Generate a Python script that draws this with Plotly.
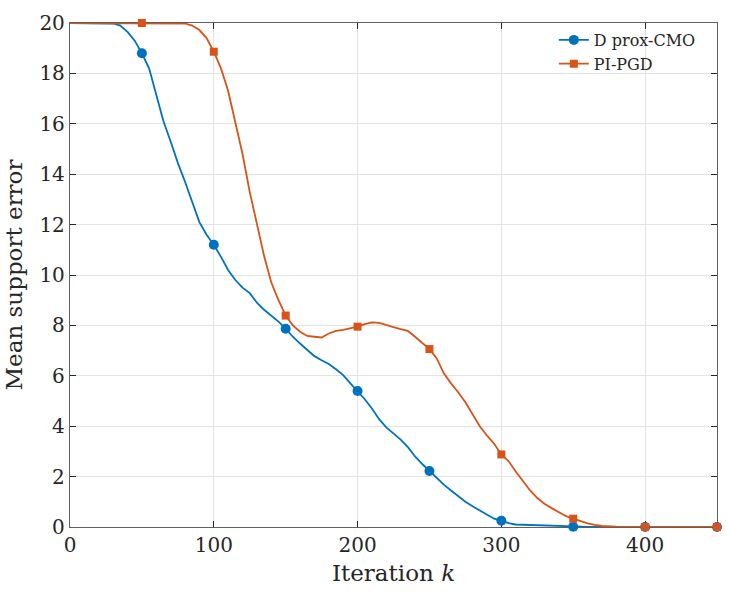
import plotly.graph_objects as go

# Iteration index and mean support error for each method
k_dprox = [0, 25, 30, 35, 40, 45, 50, 55, 60, 65, 70, 75, 80, 85, 90, 95, 100, 105, 110, 115, 120,
           125, 130, 135, 140, 145, 150, 155, 160, 165, 170, 175, 180, 185, 190, 195, 200, 205, 210,
           215, 220, 225, 230, 235, 240, 245, 250, 255, 260, 265, 270, 275, 280, 285, 290, 295, 300,
           305, 310, 320, 330, 340, 350, 360, 380, 400, 450]
err_dprox = [20, 20, 19.98, 19.9, 19.65, 19.3, 18.8, 18.2, 17.2, 16.1, 15.3, 14.45, 13.7, 12.9, 12.1,
             11.6, 11.2, 10.72, 10.2, 9.8, 9.5, 9.28, 8.9, 8.62, 8.4, 8.15, 7.87, 7.55, 7.28, 7.02,
             6.78, 6.62, 6.47, 6.26, 6.03, 5.7, 5.4, 5.07, 4.7, 4.28, 3.95, 3.7, 3.47, 3.17, 2.8, 2.5,
             2.22, 1.95, 1.68, 1.45, 1.22, 1.0, 0.82, 0.66, 0.47, 0.33, 0.25, 0.15, 0.1, 0.08, 0.05,
             0.03, 0.01, 0.005, 0, 0, 0]

k_pipgd = [0, 50, 75, 80, 85, 90, 95, 100, 105, 110, 115, 120, 125, 130, 135, 140, 145, 150, 155, 160,
           165, 170, 175, 180, 185, 190, 195, 200, 205, 210, 215, 220, 225, 230, 235, 240, 245, 250,
           255, 260, 265, 270, 275, 280, 285, 290, 295, 300, 305, 310, 315, 320, 325, 330, 335, 340,
           345, 350, 355, 360, 365, 370, 380, 390, 400, 450]
err_pipgd = [20, 20, 20, 19.98, 19.9, 19.72, 19.4, 18.86, 18.2, 17.3, 16.05, 14.8, 13.3, 12.05, 10.75,
             9.7, 9.0, 8.39, 8.0, 7.75, 7.58, 7.55, 7.52, 7.68, 7.78, 7.82, 7.87, 7.95, 8.05, 8.12,
             8.1, 8.0, 7.93, 7.85, 7.78, 7.55, 7.3, 7.06, 6.7, 6.1, 5.7, 5.35, 4.95, 4.45, 4.0, 3.63,
             3.3, 2.88, 2.62, 2.2, 1.8, 1.45, 1.15, 0.92, 0.75, 0.58, 0.43, 0.33, 0.22, 0.14, 0.08,
             0.04, 0.01, 0.002, 0, 0]

marker_k = [50, 100, 150, 200, 250, 300, 350, 400, 450]
x_ticks = [0, 100, 200, 300, 400]
y_ticks = [0, 2, 4, 6, 8, 10, 12, 14, 16, 18, 20]

BLUE = "#0072BD"
ORANGE = "#D95319"
FONT = "DejaVu Serif"


def pick(ks, vs, wanted):
    d = dict(zip(ks, vs))
    return [d[w] for w in wanted]


fig = go.Figure()
series = [
    ("D prox-CMO", k_dprox, err_dprox, BLUE, "circle", 10),
    ("PI-PGD", k_pipgd, err_pipgd, ORANGE, "square", 8),
]
for name, ks, vs, col, sym, sz in series:
    fig.add_trace(go.Scatter(x=ks, y=vs, mode="lines", line=dict(color=col, width=1.8),
                             showlegend=False, cliponaxis=False, hoverinfo="skip"))
    fig.add_trace(go.Scatter(x=marker_k, y=pick(ks, vs, marker_k), mode="markers",
                             marker=dict(symbol=sym, size=sz, color=col), showlegend=False,
                             cliponaxis=False))
for name, ks, vs, col, sym, sz in series:
    fig.add_trace(go.Scatter(x=[None], y=[None], mode="lines+markers", name=name,
                             line=dict(color=col, width=1.8),
                             marker=dict(symbol=sym, size=sz, color=col)))

axis_common = dict(
    showline=True, linecolor="#606060", linewidth=1.3, mirror="allticks",
    ticks="inside", ticklen=6, tickcolor="#262626", tickwidth=1,
    showgrid=True, gridcolor="#e3e3e3", gridwidth=1, zeroline=False,
    tickfont=dict(family=FONT, size=20, color="#262626"),
    layer="below traces",
)

fig.update_layout(
    width=729, height=611,
    margin=dict(l=70, r=11, t=17, b=84),
    paper_bgcolor="white", plot_bgcolor="white",
    font=dict(family=FONT, color="#262626"),
    xaxis=dict(range=[0, 450], tickvals=x_ticks,
               title=dict(text="Iteration <i>k</i>", font=dict(family=FONT, size=23), standoff=8),
               **axis_common),
    yaxis=dict(range=[0, 20], tickvals=y_ticks,
               title=dict(text="Mean support error", font=dict(family=FONT, size=23), standoff=10),
               **axis_common),
    legend=dict(x=0.975, y=1.0, xanchor="right", yanchor="top", bgcolor="rgba(0,0,0,0)",
                font=dict(family=FONT, size=16, color="#262626"), tracegroupgap=0,
                itemwidth=30),
    showlegend=True,
)

fig.write_html("out.html")
